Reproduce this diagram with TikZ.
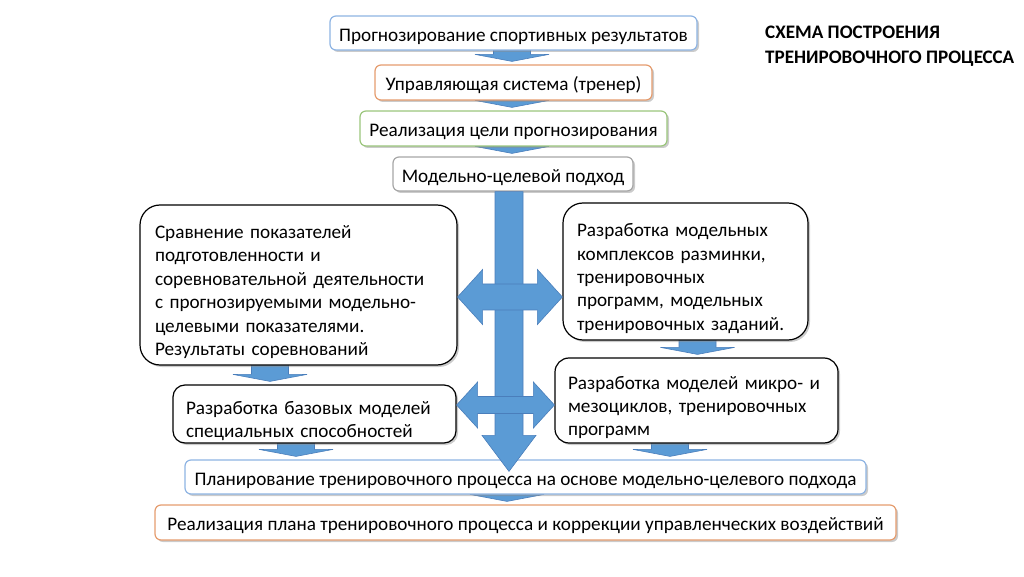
\documentclass[tikz,border=0pt]{standalone}
\usepackage{fontspec}
\setmainfont{Carlito}
\usetikzlibrary{calc,shadows,backgrounds}

\definecolor{arrowblue}{HTML}{5B9BD5}
\definecolor{arrowedge}{HTML}{4A7EBB}
\definecolor{lineblue}{HTML}{8EB4E3}
\definecolor{lineorange}{HTML}{E59C6E}
\definecolor{linegreen}{HTML}{9BC67C}
\definecolor{linegray}{HTML}{A6A6A6}

% small block arrow between two boxes (drawn behind them)
\newcommand{\downblock}[3][0]{%
  \path[blockarrow] let \p1=(#2.south), \p2=(#3.north) in
    (\x1+#1pt-18.5pt,\y1+10pt) -- (\x1+#1pt+18.5pt,\y1+10pt)
    -- (\x1+#1pt+18.5pt,\y2+10pt) -- (\x1+#1pt+37pt,\y2+10pt)
    -- (\x1+#1pt,\y2+3pt) -- (\x1+#1pt-37pt,\y2+10pt)
    -- (\x1+#1pt-18.5pt,\y2+10pt) -- cycle;}

% double block arrow: left node, right node, height, shaft half, head half, head length
\newcommand{\sideblock}[6]{%
  \path[blockarrow] let \p1=(#1.east), \p2=(#2.west) in
    (\x1,#3) -- (\x1+#6,#3+#5) -- (\x1+#6,#3+#4) -- (\x2-#6,#3+#4)
    -- (\x2-#6,#3+#5) -- (\x2,#3) -- (\x2-#6,#3-#5) -- (\x2-#6,#3-#4)
    -- (\x1+#6,#3-#4) -- (\x1+#6,#3-#5) -- cycle;}

\begin{document}
\begin{tikzpicture}[x=1pt, y=1pt,
    txt/.style={font=\fontsize{19.2}{23.4}\selectfont},
    box/.style={txt, draw, fill=white, line width=1.2pt, rounded corners=6pt,
        inner sep=0pt, execute at begin node={\rule{0pt}{20pt}},
        drop shadow={shadow xshift=2pt, shadow yshift=-2pt, fill=black!45, opacity=0.45}},
    bigbox/.style={box, draw=black, rounded corners=20pt, align=left,
        execute at begin node={\rule{0pt}{27pt}}},
    blockarrow/.style={fill=arrowblue, draw=arrowedge, line width=0.6pt, line join=miter}]
  \useasboundingbox (0,0) rectangle (1024,576);

  % title
  \node[txt, font=\fontsize{19.1}{25}\selectfont\bfseries, anchor=base west, align=left, inner sep=0pt]
    (title) at (765,512) {СХЕМА ПОСТРОЕНИЯ\\ТРЕНИРОВОЧНОГО ПРОЦЕССА};

  % boxes
  \node[box, draw=lineblue, minimum width=367, minimum height=34] (b1) at (513.5,543)
    {Прогнозирование спортивных результатов};
  \node[box, draw=lineorange, minimum width=277, minimum height=35] (b2) at (513.5,493.5)
    {Управляющая система (тренер)};
  \node[box, draw=linegreen, minimum width=307, minimum height=35] (b3) at (513.5,447.5)
    {Реализация цели прогнозирования};
  \node[box, draw=linegray, minimum width=240, minimum height=34] (b4) at (513,402)
    {Модельно-целевой подход};

  \node[bigbox, text width=287, inner xsep=15pt, minimum height=160] (lbig) at (298.5,291)
    {Сравнение показателей\\подготовленности и\\соревновательной деятельности\\с прогнозируемыми модельно-\\целевыми показателями.\\Результаты соревнований};
  \node[bigbox, text width=217, inner xsep=14pt, minimum height=137] (rA) at (685.5,304.5)
    {Разработка модельных\\комплексов разминки,\\тренировочных\\программ, модельных\\тренировочных заданий.};
  \node[bigbox, rounded corners=14pt, text width=257, inner xsep=13pt, minimum height=85] (rB) at (696.5,175.5)
    {Разработка моделей микро- и\\мезоциклов, тренировочных\\программ};
  \node[bigbox, rounded corners=12pt, text width=257, inner xsep=13pt, minimum height=58] (lB) at (314.5,162)
    {Разработка базовых моделей\\специальных способностей};

  \node[box, draw=lineblue, minimum width=681, minimum height=34] (plan) at (525.5,99)
    {Планирование тренировочного процесса на основе модельно-целевого подхода};
  \node[box, draw=lineorange, minimum width=741, minimum height=35] (real) at (525.5,53.5)
    {Реализация плана тренировочного процесса и коррекции управленческих воздействий};

  % small arrows, behind the boxes
  \begin{pgfonlayer}{background}
    \downblock[-1.5]{b1}{b2}
    \downblock[-1.5]{b2}{b3}
    \downblock[-1.5]{b3}{b4}
    \downblock[-28.5]{lbig}{lB}
    \downblock[12]{rA}{rB}
    \downblock[-18.5]{lB}{plan}
    \downblock[-26.5]{rB}{plan}
    \downblock[-18.5]{plan}{real}
  \end{pgfonlayer}

  % main vertical arrow
  \path[blockarrow] let \p1=(b4.south), \p2=(plan.north) in
    (\x1-18pt,\y1) -- (\x1+10pt,\y1) -- (\x1+10pt,\y2+24pt) -- (\x1+23pt,\y2+24pt)
    -- (\x1-4pt,\y2-12pt) -- (\x1-31pt,\y2+24pt) -- (\x1-18pt,\y2+24pt) -- cycle;

  % side arrows
  \sideblock{lbig}{rA}{279pt}{13pt}{27.5pt}{25pt}
  \sideblock{lB}{rB}{171pt}{8.5pt}{23pt}{21pt}
\end{tikzpicture}
\end{document}
